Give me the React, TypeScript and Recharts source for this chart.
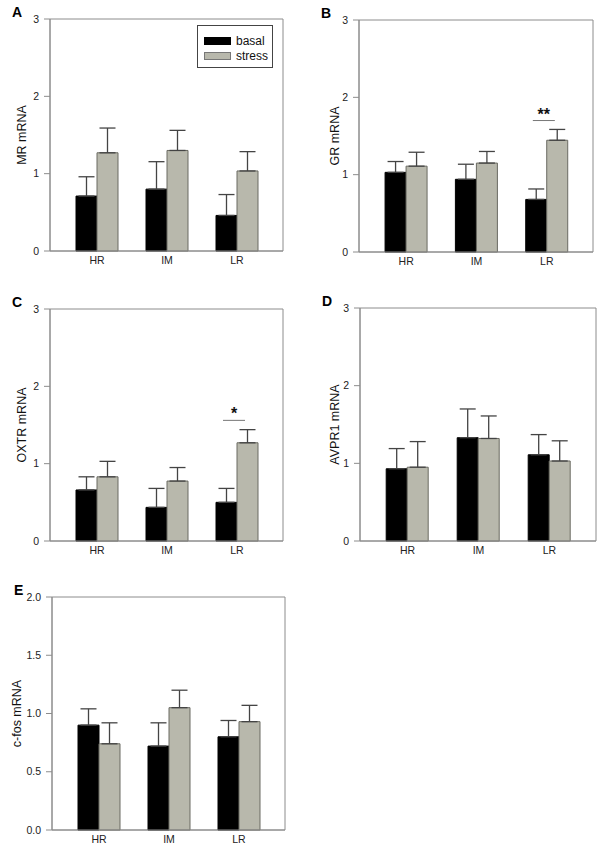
import React from 'react';
import { ComposedChart, Bar, ErrorBar, XAxis, YAxis, Scatter, CartesianGrid } from 'recharts';

const groups = ['HR', 'IM', 'LR'];

// mean and SEM per group (HR, IM, LR)
const mrBasal = [0.71, 0.80, 0.46];
const mrBasalSem = [0.25, 0.355, 0.27];
const mrStress = [1.27, 1.30, 1.035];
const mrStressSem = [0.32, 0.26, 0.25];

const grBasal = [1.03, 0.94, 0.68];
const grBasalSem = [0.14, 0.195, 0.135];
const grStress = [1.11, 1.15, 1.445];
const grStressSem = [0.18, 0.15, 0.14];
const grSig = [null, null, 1.70];

const oxtrBasal = [0.66, 0.435, 0.50];
const oxtrBasalSem = [0.17, 0.245, 0.18];
const oxtrStress = [0.83, 0.775, 1.27];
const oxtrStressSem = [0.20, 0.175, 0.17];
const oxtrSig = [null, null, 1.56];

const avprBasal = [0.93, 1.33, 1.11];
const avprBasalSem = [0.26, 0.37, 0.26];
const avprStress = [0.95, 1.32, 1.03];
const avprStressSem = [0.33, 0.29, 0.26];

const fosBasal = [0.90, 0.72, 0.80];
const fosBasalSem = [0.14, 0.20, 0.14];
const fosStress = [0.74, 1.05, 0.93];
const fosStressSem = [0.18, 0.15, 0.14];

const ticks3 = [0, 1, 2, 3];
const ticks2 = [0, 0.5, 1, 1.5, 2];

const BASAL = '#000000';
const STRESS = '#b8b8ac';
const FRAME = '#8c8c8c';
const FONT = '"Liberation Sans", Arial, sans-serif';

function build(basal, basalSem, stress, stressSem, sig = [null, null, null]) {
  return groups.map((g, i) => ({
    group: g,
    basal: basal[i],
    basalErr: [0, basalSem[i]],
    stress: stress[i],
    stressErr: [0, stressSem[i]],
    sig: sig[i],
  }));
}

function sigShape(mark) {
  return (props) => {
    const { cx, cy, payload } = props;
    if (payload.sig == null || !isFinite(cx) || !isFinite(cy)) return <g />;
    return (
      <g>
        <line x1={cx - 14} x2={cx + 8} y1={cy} y2={cy} stroke="#777" strokeWidth={1} />
        <text x={cx - 3} y={cy - 1} textAnchor="middle" fontSize={16} fontWeight="bold" fontFamily={FONT} fill="#111">
          {mark}
        </text>
      </g>
    );
  };
}

// frame = plot-area box edges
const frameRows = ({ offset }) => [offset.top, offset.top + offset.height];
const frameCols = ({ offset }) => [offset.left, offset.left + offset.width];

function Panel({ letter, label, data, left, top, plotW, plotH, ticks, max, labelOffset, mark, fmt }) {
  const yw = 50;
  const width = yw + plotW + 4;
  const height = 19 + plotH + 22 + 4;
  return (
    <div style={{ position: 'absolute', left, top, width, height }}>
      <div style={{ position: 'absolute', left: yw - 38, top: 5, fontFamily: FONT, fontWeight: 'bold', fontSize: 14, lineHeight: '14px' }}>
        {letter}
      </div>
      <ComposedChart width={width} height={height} data={data} margin={{ top: 19, right: 4, bottom: 4, left: 0 }} barCategoryGap="20%" barGap={0}>
        <CartesianGrid stroke={FRAME} strokeWidth={1} horizontalCoordinatesGenerator={frameRows} verticalCoordinatesGenerator={frameCols} />
        <XAxis dataKey="group" padding={{ left: 12, right: 11 }} height={22} tickLine={false} tickSize={0} tickMargin={6}
          axisLine={{ stroke: FRAME }} tick={{ fontSize: 10.5, fill: '#222', fontFamily: FONT }} />
        <YAxis width={yw} domain={[0, max]} ticks={ticks} tickSize={6} tickMargin={5} interval={0}
          tickFormatter={fmt} axisLine={{ stroke: FRAME }} tickLine={{ stroke: FRAME }}
          tick={{ fontSize: 10.5, fill: '#222', fontFamily: FONT }}
          label={{ value: label, angle: -90, position: 'insideLeft', offset: yw - labelOffset, style: { textAnchor: 'middle', fontSize: 12.5, fill: '#111', fontFamily: FONT } }} />
        <Bar dataKey="basal" fill={BASAL} stroke="#000" strokeWidth={1} isAnimationActive={false}>
          <ErrorBar dataKey="basalErr" width={8} stroke="#444" strokeWidth={1.3} direction="y" />
        </Bar>
        <Bar dataKey="stress" fill={STRESS} stroke="#6a6a62" strokeWidth={1} isAnimationActive={false}>
          <ErrorBar dataKey="stressErr" width={8} stroke="#444" strokeWidth={1.3} direction="y" />
        </Bar>
        {mark ? <Scatter dataKey="sig" shape={sigShape(mark)} isAnimationActive={false} /> : null}
      </ComposedChart>
    </div>
  );
}

function LegendBox() {
  const row = (color, border, text) => (
    <div style={{ display: 'flex', alignItems: 'center', height: 15 }}>
      <div style={{ width: 25, height: 6, background: color, border: `1px solid ${border}`, marginRight: 5 }} />
      <span style={{ fontSize: 12, fontFamily: FONT, color: '#111' }}>{text}</span>
    </div>
  );
  return (
    <div style={{ position: 'absolute', left: 197, top: 25, width: 74, height: 41, border: '1px solid #444', background: '#fff' }}>
      <div style={{ position: 'absolute', left: 6, top: 7 }}>
        {row(BASAL, '#000', 'basal')}
        {row(STRESS, '#777', 'stress')}
      </div>
    </div>
  );
}

export default function App() {
  const one = (v) => String(v);
  const dec = (v) => v.toFixed(1);
  return (
    <div style={{ position: 'absolute', left: 0, top: 0, width: 600, height: 850, background: '#fff' }}>
      <Panel letter="A" label="MR mRNA" data={build(mrBasal, mrBasalSem, mrStress, mrStressSem)}
        left={0} top={0} plotW={233} plotH={232} ticks={ticks3} max={3} labelOffset={28} fmt={one} />
      <Panel letter="B" label="GR mRNA" data={build(grBasal, grBasalSem, grStress, grStressSem, grSig)}
        left={309} top={1} plotW={234} plotH={232} ticks={ticks3} max={3} labelOffset={24} mark="**" fmt={one} />
      <Panel letter="C" label="OXTR mRNA" data={build(oxtrBasal, oxtrBasalSem, oxtrStress, oxtrStressSem, oxtrSig)}
        left={0} top={290} plotW={233} plotH={232} ticks={ticks3} max={3} labelOffset={28} mark="*" fmt={one} />
      <Panel letter="D" label="AVPR1 mRNA" data={build(avprBasal, avprBasalSem, avprStress, avprStressSem)}
        left={310} top={289} plotW={236} plotH={233} ticks={ticks3} max={3} labelOffset={25} fmt={one} />
      <Panel letter="E" label="c-fos mRNA" data={build(fosBasal, fosBasalSem, fosStress, fosStressSem)}
        left={2} top={578} plotW={233} plotH={233} ticks={ticks2} max={2} labelOffset={35} fmt={dec} />
      <LegendBox />
    </div>
  );
}
